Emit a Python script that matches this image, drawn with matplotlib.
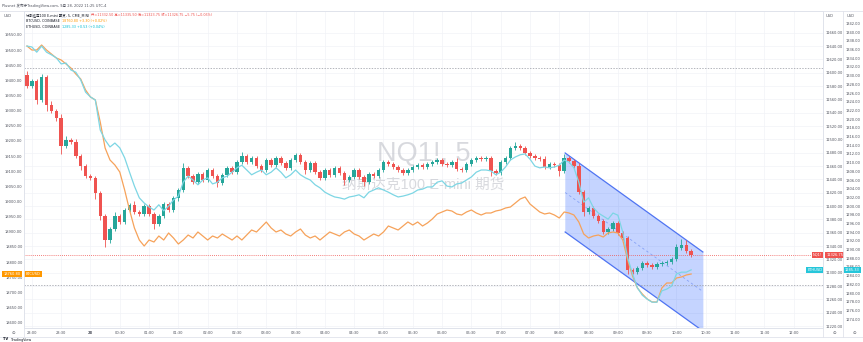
import matplotlib
matplotlib.use("Agg")
import matplotlib.pyplot as plt
from matplotlib.lines import Line2D
import numpy as np

plt.rcParams["font.family"] = ["DejaVu Sans", "Noto Sans CJK SC"]

W, H = 863, 342
PANE_L, PANE_T, PANE_R, PANE_B = 24, 11, 823, 328

UP = "#26a69a"
DOWN = "#ef5350"
BTC_C = "#f6a25a"
ETH_C = "#7dd6e4"
GRID = "#f2f3f7"
BORDER = "#e0e3eb"
TXT = "#50535e"
FS = 2.6

# NQ1! 5-minute bars, first bar 22:55
nq_open = [
    11596.5, 11580, 11587.5, 11559, 11593.5, 11551.5, 11542.5, 11532, 11490, 11499,
    11496, 11475, 11460, 11445, 11442, 11419.5, 11385, 11349, 11365.5, 11385,
    11376, 11394, 11401.5, 11391, 11388, 11400, 11388, 11373, 11385, 11403,
    11394, 11412, 11424, 11457, 11445, 11436, 11448, 11439, 11454, 11445,
    11434.5, 11446.5, 11457, 11451, 11466, 11475, 11466, 11472, 11460, 11454,
    11469, 11461.5, 11472, 11464.5, 11457, 11469, 11476.5, 11466, 11454, 11464.5,
    11451, 11442, 11454, 11446.5, 11457, 11449.5, 11439, 11443.5, 11454, 11443.5,
    11436, 11448, 11445, 11454, 11466, 11463, 11458.5, 11454, 11449.5, 11454,
    11458.5, 11461.5, 11458.5, 11463, 11466, 11469, 11463, 11461.5, 11466, 11455.5,
    11454, 11463, 11469, 11472, 11470.5, 11472, 11452.5, 11449.5, 11466, 11472,
    11487, 11490, 11487, 11479.5, 11475, 11472, 11470.5, 11458.5, 11463, 11461.5,
    11452.5, 11472, 11467.5, 11460, 11421, 11391, 11397, 11385, 11377.5, 11361,
    11365.5, 11374.5, 11359.5, 11352, 11304, 11301, 11307, 11314.5, 11311.5, 11308.5,
    11313, 11314.5, 11316, 11320.5, 11337, 11341, 11332.5,
]
nq_close = [
    11580, 11587.5, 11559, 11593.5, 11551.5, 11542.5, 11532, 11490, 11499, 11496,
    11475, 11460, 11445, 11442, 11419.5, 11385, 11349, 11365.5, 11385, 11376,
    11394, 11401.5, 11391, 11388, 11400, 11388, 11373, 11385, 11403, 11394,
    11412, 11424, 11457, 11445, 11436, 11448, 11439, 11454, 11445, 11434.5,
    11446.5, 11457, 11451, 11466, 11475, 11466, 11472, 11460, 11454, 11469,
    11461.5, 11472, 11464.5, 11457, 11469, 11476.5, 11466, 11454, 11464.5, 11451,
    11442, 11454, 11446.5, 11457, 11449.5, 11439, 11443.5, 11454, 11443.5, 11436,
    11448, 11445, 11454, 11466, 11463, 11458.5, 11454, 11449.5, 11454, 11458.5,
    11461.5, 11458.5, 11463, 11466, 11469, 11463, 11461.5, 11466, 11455.5, 11454,
    11463, 11469, 11472, 11470.5, 11472, 11452.5, 11449.5, 11466, 11472, 11487,
    11490, 11487, 11479.5, 11475, 11472, 11470.5, 11458.5, 11463, 11461.5, 11452.5,
    11472, 11467.5, 11460, 11421, 11391, 11397, 11385, 11377.5, 11361, 11365.5,
    11374.5, 11359.5, 11352, 11304, 11301, 11307, 11314.5, 11311.5, 11308.5, 11313,
    11314.5, 11316, 11320.5, 11338.5, 11341, 11332.5, 11326.75,
]
# wick lengths above / below the body, in index points
nq_upper_wick = [
    6, 3, 3, 4, 3, 6, 3, 6, 6, 3,
    4, 3, 3, 3, 3, 3, 3, 3, 6, 3,
    3, 3, 6, 3, 3, 3, 3, 3, 3, 3,
    3, 3, 8, 3, 3, 3, 3, 3, 3, 3,
    3, 3, 3, 3, 6, 3, 3, 3, 3, 3,
    3, 3, 3, 3, 3, 3, 3, 3, 3, 3,
    3, 3, 3, 3, 3, 3, 3, 3, 3, 3,
    3, 3, 3, 3, 3, 3, 3, 3, 3, 3,
    3, 3, 3, 3, 3, 3, 3, 3, 6, 3,
    3, 3, 3, 3, 3, 3, 3, 3, 3, 3,
    6, 3, 3, 3, 3, 3, 4, 3, 3, 3,
    6, 3, 3, 4, 3, 3, 3, 3, 3, 3,
    3, 3, 3, 3, 3, 3, 3, 3, 3, 3,
    3, 3, 3, 4, 10, 8, 3,
]
nq_lower_wick = [
    3, 3, 6, 3, 9, 3, 4, 12, 3, 3,
    3, 6, 3, 3, 9, 6, 10, 4, 3, 3,
    3, 3, 3, 3, 3, 3, 8, 3, 3, 3,
    3, 5, 3, 3, 3, 3, 3, 3, 3, 6,
    3, 3, 3, 3, 3, 3, 3, 3, 3, 3,
    3, 3, 3, 3, 3, 3, 3, 6, 3, 3,
    3, 3, 3, 3, 3, 8, 3, 3, 3, 6,
    3, 3, 3, 3, 3, 3, 3, 3, 3, 3,
    3, 3, 3, 3, 3, 3, 3, 3, 3, 3,
    3, 3, 3, 3, 3, 8, 3, 3, 3, 3,
    3, 3, 3, 3, 3, 3, 3, 3, 3, 8,
    3, 3, 3, 3, 6, 3, 3, 3, 3, 3,
    3, 3, 3, 6, 3, 3, 3, 3, 3, 3,
    3, 3, 3, 3, 3, 3, 3,
]
btc_close = [
    19513.2, 19500.0, 19500.0, 19516.5, 19500.0, 19486.8, 19473.6, 19467.0, 19453.8, 19440.6,
    19420.8, 19404.3, 19368.0, 19344.9, 19335.0, 19262.4, 19176.6, 19137.0, 19120.5, 19097.4,
    19038.0, 18972.0, 18912.6, 18873.0, 18853.2, 18873.0, 18866.4, 18886.2, 18873.0, 18896.1,
    18879.6, 18859.8, 18873.0, 18889.5, 18879.6, 18899.4, 18886.2, 18873.0, 18886.2, 18879.6,
    18892.8, 18882.9, 18873.0, 18886.2, 18873.0, 18889.5, 18906.0, 18899.4, 18915.9, 18932.4,
    18912.6, 18899.4, 18906.0, 18892.8, 18886.2, 18899.4, 18909.3, 18889.5, 18879.6, 18886.2,
    18873.0, 18886.2, 18899.4, 18892.8, 18886.2, 18899.4, 18906.0, 18892.8, 18886.2, 18873.0,
    18882.9, 18892.8, 18886.2, 18899.4, 18919.2, 18912.6, 18906.0, 18919.2, 18932.4, 18922.5,
    18932.4, 18919.2, 18929.1, 18942.3, 18958.8, 18965.4, 18972.0, 18968.7, 18958.8, 18955.5,
    18965.4, 18972.0, 18962.1, 18955.5, 18962.1, 18962.1, 18968.7, 18972.0, 18978.6, 18981.9,
    18995.1, 19008.3, 19014.9, 18991.8, 18978.6, 18965.4, 18958.8, 18962.1, 18955.5, 18945.6,
    18965.4, 18962.1, 18955.5, 18932.4, 18892.8, 18879.6, 18886.2, 18889.5, 18882.9, 18896.1,
    18899.4, 18896.1, 18873.0, 18807.0, 18754.2, 18714.6, 18694.8, 18678.3, 18668.4, 18668.4,
    18714.6, 18731.1, 18731.1, 18747.6, 18750.9, 18757.5, 18760.8,
]
eth_close = [
    1336.8, 1336.6, 1335.4, 1336.8, 1335.4, 1334.8, 1334.1, 1332.7, 1332.9, 1331.3,
    1330.8, 1329.0, 1326.2, 1325.1, 1324.4, 1317.5, 1315.2, 1313.6, 1314.5, 1313.4,
    1311.1, 1307.8, 1304.6, 1301.9, 1300.7, 1299.8, 1299.1, 1300.3, 1298.9, 1300.0,
    1301.4, 1302.3, 1305.5, 1306.9, 1306.0, 1304.9, 1306.0, 1306.5, 1305.1, 1305.5,
    1306.5, 1306.9, 1307.8, 1308.8, 1309.4, 1308.3, 1307.2, 1307.8, 1308.3, 1307.2,
    1307.8, 1308.8, 1307.8, 1306.5, 1307.2, 1308.3, 1307.2, 1306.5, 1306.0, 1304.9,
    1304.2, 1303.2, 1302.6, 1302.1, 1301.9, 1301.6, 1302.1, 1302.3, 1302.6, 1301.9,
    1303.2, 1303.7, 1304.2, 1303.7, 1303.2, 1302.6, 1302.1, 1302.3, 1302.6, 1303.0,
    1303.7, 1303.9, 1304.4, 1304.4, 1305.5, 1305.8, 1304.6, 1304.4, 1305.1, 1305.3,
    1306.0, 1306.7, 1307.8, 1308.3, 1308.3, 1308.1, 1307.2, 1307.8, 1309.0, 1310.6,
    1311.3, 1311.8, 1312.0, 1310.8, 1309.2, 1308.8, 1309.0, 1308.8, 1309.0, 1309.4,
    1310.6, 1310.1, 1308.8, 1305.5, 1300.9, 1301.9, 1299.6, 1298.4, 1297.7, 1297.0,
    1298.4, 1297.9, 1294.0, 1288.1, 1284.4, 1281.2, 1279.5, 1278.6, 1277.9, 1277.9,
    1280.5, 1280.9, 1281.6, 1284.4, 1284.8, 1284.8, 1285.33,
]

time_labels = [
    "23:00", "23:30", "28", "00:30", "01:00", "01:30", "02:00", "02:30", "03:00",
    "03:30", "04:00", "04:30", "05:00", "05:30", "06:00", "06:30", "07:00", "07:30",
    "08:00", "08:30", "09:00", "09:30", "10:00", "10:30", "11:00", "11:30", "12:00",
]

# drawn regression channel (bar index, price) and horizontal lines
channel_x = [110.2, 138.4]
channel_top = [11479.5, 11331.0]
channel_height = 118.5
hlines_gray = [11607.0, 11281.5]

# visible ranges of the three price scales
BAR_RANGE = (-0.61, 163.0)
NQ_RANGE = (11217.0, 11692.5)
BTC_RANGE = (18582.6, 19628.7)
ETH_RANGE = (1271.96, 1344.87)


def fx(x):
    return x / W


def fy(y):
    return 1 - y / H


fig = plt.figure(figsize=(W / 100, H / 100), dpi=100)
ax = fig.add_axes([fx(PANE_L), fy(PANE_B), (PANE_R - PANE_L) / W, (PANE_B - PANE_T) / H])
ax_btc = ax.twinx()
ax_eth = ax.twinx()

ax.set_xlim(*BAR_RANGE)
ax.set_ylim(*NQ_RANGE)
ax_btc.set_ylim(*BTC_RANGE)
ax_eth.set_ylim(*ETH_RANGE)

# grid and scales
tick_idx = [1 + 6 * j for j in range(len(time_labels))]
ax.set_xticks(tick_idx, time_labels)
for lbl in ax.get_xticklabels():
    if lbl.get_text() == "28":
        lbl.set_fontweight("bold")
ax.tick_params(axis="x", length=0, pad=2.2, labelsize=FS, colors=TXT)

nq_ticks = np.arange(11220, 11661, 20)
ax.yaxis.tick_right()
ax.set_yticks(nq_ticks, [f"{v:.2f}" for v in nq_ticks])
ax.tick_params(axis="y", length=0, pad=2.2, labelsize=FS, colors=TXT)
ax.grid(True, color=GRID, linewidth=0.5)
ax.set_axisbelow(True)

btc_ticks = np.arange(18600, 19551, 50)
ax_btc.yaxis.set_ticks_position("left")
ax_btc.set_yticks(btc_ticks, [f"{v:.2f}" for v in btc_ticks])
ax_btc.tick_params(axis="y", length=0, pad=1.0, labelsize=FS, colors=TXT)

eth_ticks = np.arange(1274, 1343, 2)
ax_eth.yaxis.set_ticks_position("right")
ax_eth.set_yticks(eth_ticks, [f"{v:.2f}" for v in eth_ticks])
ax_eth.tick_params(axis="y", length=0, pad=16.5, labelsize=FS, colors=TXT)

for a in (ax, ax_btc, ax_eth):
    for s in a.spines.values():
        s.set_color(BORDER)
        s.set_linewidth(0.6)

# watermark
ax.text(0.5, 0.55, "NQ1!, 5", transform=ax.transAxes, ha="center", va="center",
        fontsize=19.5, family=["Liberation Sans", "DejaVu Sans"], color="#b2b5be", alpha=0.5, zorder=1)
ax.text(0.5, 0.451, "纳斯达克100 E-mini 期货", transform=ax.transAxes, ha="center", va="center",
        fontsize=10.5, family=["Liberation Sans", "Noto Sans CJK SC"], color="#b2b5be", alpha=0.5, zorder=1)

# channel drawing
ch_bot = [t - channel_height for t in channel_top]
ch_mid = [t - channel_height / 2 for t in channel_top]
ax.fill_between(channel_x, ch_bot, channel_top, color="#2962ff", alpha=0.27, linewidth=0, zorder=1.5)
ax.plot(channel_x, channel_top, color="#4f74f2", linewidth=0.9, zorder=2)
ax.plot(channel_x, ch_bot, color="#4f74f2", linewidth=0.9, zorder=2)
ax.plot(channel_x, ch_mid, color="#5f82f0", linewidth=0.6, linestyle=(0, (3, 3)), alpha=0.6, zorder=2)
ax.plot([channel_x[0]] * 2, [ch_bot[0], channel_top[0]], color="#2962ff", alpha=0.15, linewidth=0.5)

# horizontal lines
for v in hlines_gray:
    ax.axhline(v, color="#9598a1", linewidth=0.5, linestyle=(0, (2, 2)), zorder=2)
ax.axhline(nq_close[-1], color=DOWN, linewidth=0.6, linestyle=(0, (1, 1.5)), zorder=2)

# candles
o = np.array(nq_open)
c = np.array(nq_close)
hi = np.maximum(o, c) + np.array(nq_upper_wick)
lo = np.minimum(o, c) - np.array(nq_lower_wick)
idx = np.arange(len(c))
cols = np.where(c > o, UP, DOWN)
body = np.maximum(np.abs(c - o), 1.0)
ax.vlines(idx, lo, hi, colors=cols, linewidth=0.6, zorder=3)
ax.bar(idx, body, bottom=np.minimum(o, c), width=0.7, color=cols, linewidth=0, zorder=4)

# comparison symbols
ax_btc.plot(idx, btc_close, color=BTC_C, linewidth=0.9, zorder=3)
ax_eth.plot(idx, eth_close, color=ETH_C, linewidth=0.9, zorder=3)


def tag(a, x, y, s, color, ha):
    a.text(x, y, s, transform=a.get_yaxis_transform(), ha=ha, va="center", fontsize=FS,
           color="white", clip_on=False, zorder=10,
           bbox=dict(boxstyle="square,pad=0.35", fc=color, ec="none"))


tag(ax, 0.999, nq_close[-1], "NQ1!", DOWN, "right")
tag(ax, 1.004, nq_close[-1], f"{nq_close[-1]:.2f}", DOWN, "left")
tag(ax_eth, 0.999, eth_close[-1], "ETHUSD", "#26c6da", "right")
tag(ax_eth, 1.0275, eth_close[-1], f"{eth_close[-1]:.2f}", "#26c6da", "left")
tag(ax_btc, -0.004, btc_close[-1], f"{btc_close[-1]:.2f}", "#ff9800", "right")
tag(ax_btc, 0.002, btc_close[-1], "BTCUSD", "#ff9800", "left")

# frame lines outside the pane
for x in (843,):
    fig.add_artist(Line2D([fx(x)] * 2, [fy(PANE_T), fy(337)], color=BORDER, linewidth=0.6))
for x in (PANE_L, PANE_R):
    fig.add_artist(Line2D([fx(x)] * 2, [fy(PANE_B), fy(337)], color=BORDER, linewidth=0.6))
fig.add_artist(Line2D([0, 1], [fy(337), fy(337)], color=BORDER, linewidth=0.6))
fig.add_artist(Line2D([0, 1], [fy(PANE_T), fy(PANE_T)], color=BORDER, linewidth=0.6))

# header and legend
fig.text(fx(2), fy(5.5), "Plusnet 发布于TradingView.com, 9月 28, 2022 11:25 UTC-4",
         fontsize=2.6, color=TXT, va="center")
for x, s in ((4, "USD"), (826, "USD"), (847, "USD")):
    fig.text(fx(x), fy(16), s, fontsize=FS, color=TXT, va="center")

renderer = fig.canvas.get_renderer()


def text_run(x_px, y_px, parts, size=2.4):
    x = x_px
    for s, color in parts:
        t = fig.text(fx(x), fy(y_px), s, color=color, fontsize=size, va="center", ha="left")
        x += t.get_window_extent(renderer).width + 2


chg = nq_close[-1] - nq_close[-2]
text_run(26, 15, [
    ("纳斯达克100 E-mini 期货, 5, CME_MINI", "#131722"),
    (f"开={nq_open[-1]:.2f} 高={nq_open[-1] + nq_upper_wick[-1]:.2f} "
     f"低={nq_close[-1] - nq_lower_wick[-1]:.2f} 收={nq_close[-1]:.2f} "
     f"{chg:+.2f} ({chg / nq_close[-2] * 100:+.2f}%)".replace("-", "\u2212"), DOWN),
])
b_chg = btc_close[-1] - btc_close[-2]
text_run(26, 21, [
    ("BTCUSD, COINBASE", "#131722"),
    (f"{btc_close[-1]:.2f} {b_chg:+.2f} ({b_chg / btc_close[-2] * 100:+.2f}%)", "#ff9800"),
])
e_chg = eth_close[-1] - eth_close[-2]
text_run(26, 27, [
    ("ETHUSD, COINBASE", "#131722"),
    (f"{eth_close[-1]:.2f} {e_chg:+.2f} ({e_chg / eth_close[-2] * 100:+.2f}%)", "#00bcd4"),
])

# bottom icons and logo
for x in (13, 834, 854):
    fig.text(fx(x), fy(332.5), "\u2299", fontsize=3.2, color=TXT, ha="center", va="center")
fig.text(fx(3), fy(339.5), "TV", fontsize=2.6, fontweight="bold", color="#131722", va="center")
fig.text(fx(11), fy(339.5), "TradingView", fontsize=2.4, color="#131722", va="center")

fig.savefig("out.png", dpi=100)
